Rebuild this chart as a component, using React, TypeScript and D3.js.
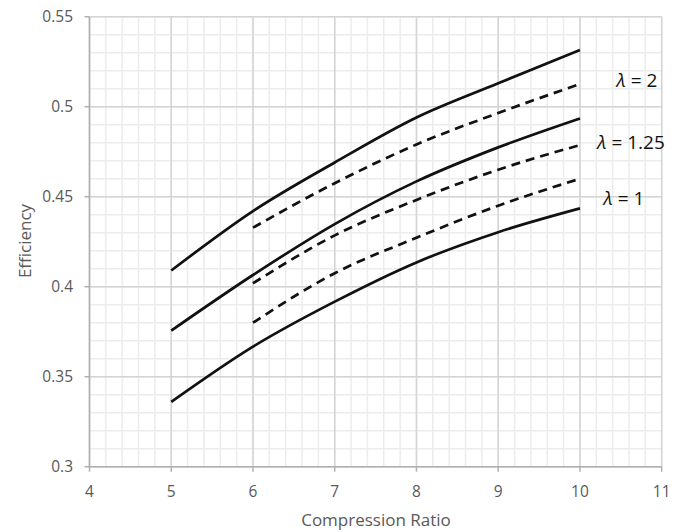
import React from "react";
import * as d3 from "d3";

const xValues = [5, 6, 7, 8, 9, 10];
const xValuesDashed = [6, 7, 8, 9, 10];

const solidLambda2 = [0.409, 0.442, 0.469, 0.494, 0.513, 0.5315];
const solidLambda125 = [0.3756, 0.4065, 0.4348, 0.4585, 0.4774, 0.4935];
const solidLambda1 = [0.336, 0.3667, 0.3917, 0.4135, 0.4303, 0.4435];

const dashedUpper = [0.4328, 0.4575, 0.479, 0.4965, 0.5126];
const dashedMiddle = [0.4019, 0.4285, 0.4482, 0.465, 0.4787];
const dashedLower = [0.38, 0.4075, 0.4272, 0.445, 0.46];

const xTicks = [4, 5, 6, 7, 8, 9, 10, 11];
const yTicks = [0.3, 0.35, 0.4, 0.45, 0.5, 0.55];
const yTickLabels = ["0.3", "0.35", "0.4", "0.45", "0.5", "0.55"];

const curveLabelTexts = ["2", "1.25", "1"];
const curveLabelValues = [0.5145, 0.4805, 0.449];

const labelCenters = [637, 631, 624];

const W = 686;
const H = 532;

export default function App() {
  const x = d3.scaleLinear().domain([4, 11]).range([89.5, 661.7]);
  const y = d3.scaleLinear().domain([0.3, 0.55]).range([466.7, 16.7]);

  const minorX = d3.range(4, 11.0001, 0.2);
  const minorY = d3.range(0.3, 0.55001, 0.01);

  const line = d3
    .line<[number, number]>()
    .x((d) => x(d[0]))
    .y((d) => y(d[1]))
    .curve(d3.curveMonotoneX);

  const solids = [solidLambda2, solidLambda125, solidLambda1];
  const dashes = [dashedUpper, dashedMiddle, dashedLower];

  const font = "Open Sans, 'Noto Sans', sans-serif";
  const gray = "#595959";

  return (
    <svg
      width={W}
      height={H}
      style={{ position: "absolute", left: 0, top: 0, background: "#fff" }}
      fontFamily={font}
    >
      <rect x={0} y={0} width={W} height={H} fill="#fff" />
      {minorX.map((v, i) => (
        <line key={"mx" + i} x1={x(v)} x2={x(v)} y1={y(0.3)} y2={y(0.55)} stroke="#ececec" strokeWidth={1.5} />
      ))}
      {minorY.map((v, i) => (
        <line key={"my" + i} x1={x(4)} x2={x(11)} y1={y(v)} y2={y(v)} stroke="#ececec" strokeWidth={1.5} />
      ))}
      {xTicks.map((v) => (
        <line key={"gx" + v} x1={x(v)} x2={x(v)} y1={y(0.3)} y2={y(0.55)} stroke="#d4d4d4" strokeWidth={1.5} />
      ))}
      {yTicks.map((v) => (
        <line key={"gy" + v} x1={x(4)} x2={x(11)} y1={y(v)} y2={y(v)} stroke="#d4d4d4" strokeWidth={1.5} />
      ))}
      <line x1={x(4)} x2={x(4)} y1={y(0.3)} y2={y(0.55)} stroke="#b0b0b0" strokeWidth={1.5} />
      <line x1={x(4)} x2={x(11)} y1={y(0.3)} y2={y(0.3)} stroke="#b0b0b0" strokeWidth={1.5} />
      {yTicks.map((v, i) => (
        <g key={"ty" + v}>
          <line x1={x(4) - 5} x2={x(4)} y1={y(v)} y2={y(v)} stroke="#b0b0b0" strokeWidth={1.5} />
          <text x={73} y={y(v)} dy="0.36em" textAnchor="end" fontSize={15.5} fill={gray}>
            {yTickLabels[i]}
          </text>
        </g>
      ))}
      {xTicks.map((v) => (
        <g key={"tx" + v}>
          <line x1={x(v)} x2={x(v)} y1={y(0.3)} y2={y(0.3) + 5} stroke="#b0b0b0" strokeWidth={1.5} />
          <text x={x(v)} y={497} textAnchor="middle" fontSize={15.5} fill={gray}>
            {v}
          </text>
        </g>
      ))}
      <text x={376} y={526} textAnchor="middle" fontSize={17} fill={gray}>
        Compression Ratio
      </text>
      <text transform={`translate(31,241) rotate(-90)`} textAnchor="middle" fontSize={17} fill={gray}>
        Efficiency
      </text>
      {solids.map((s, i) => (
        <path
          key={"s" + i}
          d={line(xValues.map((v, j) => [v, s[j]] as [number, number])) || ""}
          fill="none"
          stroke="#111"
          strokeWidth={2.7}
        />
      ))}
      {dashes.map((s, i) => (
        <path
          key={"d" + i}
          d={line(xValuesDashed.map((v, j) => [v, s[j]] as [number, number])) || ""}
          fill="none"
          stroke="#111"
          strokeWidth={2.7}
          strokeDasharray="9,6"
        />
      ))}
      {curveLabelTexts.map((t, i) => (
        <text
          key={t}
          x={labelCenters[i]}
          y={y(curveLabelValues[i])}
          dy="0.36em"
          textAnchor="middle"
          fontSize={19}
          fill="#111"
        >
          <tspan fontStyle="italic">λ</tspan>
          <tspan> = {t}</tspan>
        </text>
      ))}
    </svg>
  );
}
